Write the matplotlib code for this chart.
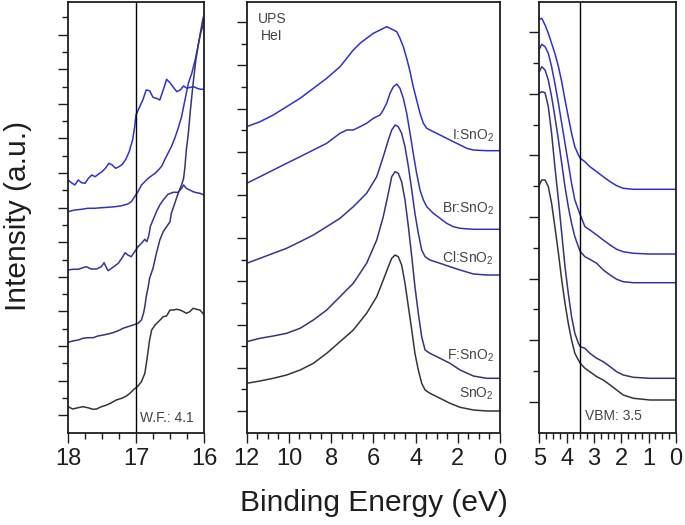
import matplotlib
matplotlib.use("Agg")
import matplotlib.pyplot as plt
import numpy as np

plt.rcParams['font.family'] = ['Liberation Sans', 'DejaVu Sans']
plt.rcParams['mathtext.fontset'] = 'custom'
plt.rcParams['mathtext.rm'] = 'Liberation Sans'
plt.rcParams['mathtext.it'] = 'Liberation Sans:italic'

# ---------------- data ----------------
samples = ["I:SnO$_2$", "Br:SnO$_2$", "Cl:SnO$_2$", "F:SnO$_2$", "SnO$_2$"]
colors = ["#3030d2", "#3434b4", "#34349a", "#343478", "#343440"]

# Secondary electron cutoff (left panel)
wf_I_E = [18.00,17.95,17.90,17.85,17.80,17.75,17.70,17.65,17.60,17.55,17.50,17.45,17.40,17.35,17.30,17.25,17.20,17.15,17.10,17.05,17.02,17.00,16.95,16.90,16.85,16.80,16.75,16.70,16.65,16.60,16.55,16.50,16.45,16.40,16.35,16.30,16.25,16.20,16.15,16.10,16.05,16.00]
wf_I = [252,249.3,247,252,249.3,248.7,253.7,257,255.3,258,260.3,263.7,268.7,267,263.7,265.3,267.7,272.7,280.3,292,305,317,324.7,332,342,341.3,334.7,333.7,332,342,352.7,349.3,344.7,340.3,342,346,343.7,344.7,345.3,343.7,342.7,342.7]
wf_Br_E = [18.00,17.90,17.80,17.71,17.61,17.51,17.41,17.31,17.21,17.12,17.07,17.02,16.97,16.92,16.87,16.82,16.77,16.72,16.67,16.62,16.58,16.53,16.48,16.43,16.38,16.33,16.30,16.26,16.23,16.18,16.13,16.08,16.05,16.02,16.00]
wf_Br = [220.3,222,222.7,223.7,223.7,224.3,224.7,225.3,226.3,228,230.3,235.3,240.3,247,250.3,253.7,256.3,258.7,262,266,272,278.7,285.3,293.7,303.7,315.3,325.3,338.7,348.7,358.7,372,388.7,398.7,405.3,415.3]
wf_Cl_E = [18.00,17.93,17.85,17.78,17.73,17.66,17.58,17.51,17.47,17.43,17.41,17.34,17.26,17.21,17.16,17.12,17.07,17.03,16.97,16.92,16.87,16.84,16.81,16.79,16.75,16.70,16.65,16.60,16.53,16.45,16.38,16.33,16.30,16.26,16.21,16.16,16.11,16.06,16.00]
wf_Cl = [162,162.7,162.7,164.3,165.3,163,163,165.3,169.3,163.7,161.3,164.7,168.7,173.7,179.3,177,175.3,179.3,185.3,188.7,192.7,190.3,197,205.3,212,220.3,227,232,237.7,239.7,239.7,243.7,247,243.7,242,240.3,239.3,238.7,237]
wf_F_E = [18.00,17.93,17.85,17.78,17.71,17.63,17.56,17.48,17.41,17.34,17.26,17.19,17.12,17.04,16.97,16.92,16.89,16.87,16.85,16.82,16.80,16.75,16.70,16.65,16.60,16.55,16.50,16.48,16.43,16.38,16.33,16.30,16.28,16.26,16.23,16.20,16.16,16.12,16.08,16.05,16.02,16.00]
wf_F = [89.7,91,92,93.7,94.3,94.3,96,97,98,99.3,101.3,103.7,105.3,107,108.7,112,118.7,125.3,135.3,145.3,153.7,163.7,178.7,192,200.3,205.3,210.3,218.7,228.7,238.7,247,253.7,265.3,282,298.7,322,348.7,372,388.7,400.3,412,417]
wf_S_E = [18.00,17.93,17.85,17.78,17.71,17.63,17.58,17.51,17.43,17.36,17.29,17.21,17.14,17.09,17.03,16.97,16.92,16.87,16.84,16.80,16.77,16.72,16.67,16.60,16.55,16.50,16.45,16.40,16.35,16.30,16.26,16.21,16.16,16.11,16.06,16.01]
wf_S = [25.3,23,24.3,25.3,24.3,22.7,23,25.3,27,29.3,32,33.7,36,38.7,42.7,46,50.3,58.7,72,92,102,107,110.3,115.3,116,122,122,122.7,122,120.3,118.7,120.3,123.7,122.7,122,118]

# Valence band (middle panel)
vb_I_E = [12.0,11.37,10.74,10.11,9.47,8.84,8.21,7.58,7.26,6.95,6.63,6.32,6.0,5.68,5.37,5.21,5.05,4.89,4.74,4.58,4.42,4.26,4.11,3.95,3.79,3.63,3.47,3.16,2.84,2.53,2.21,1.89,1.58,1.26,0.63,0.0]
vb_I = [305.3,310.3,317,325.3,333.7,343.7,353.7,365.3,373.7,382,388.7,393.7,398.7,402,405.3,403.7,402,400.3,393.7,385.3,373.7,360.3,345.3,332,318.7,308.7,303.7,300.3,297,293.7,290.3,287,283.7,282,281.3,281.3]
vb_Br_E = [12.0,11.37,10.74,10.11,9.47,8.84,8.21,7.58,7.26,6.95,6.63,6.32,6.0,5.68,5.53,5.37,5.21,5.05,4.89,4.74,4.58,4.42,4.26,4.11,3.95,3.79,3.63,3.47,3.16,2.84,2.53,2.21,1.89,1.26,0.0]
vb_Br = [248.7,255.3,262,268.7,275.3,282,288.7,298.7,302,302,305.3,308.7,313.7,317,322,328.7,338.7,345.3,348,343.7,333.7,318.7,298.7,278.7,258.7,242,232,225.3,218.7,213.7,208.7,205.3,203.7,202.7,202.7]
vb_E = [12.0,11.37,10.74,10.11,9.47,8.84,8.21,7.58,6.95,6.32,5.84,5.53,5.29,5.13,4.97,4.82,4.66,4.50,4.34,4.18,4.03,3.87,3.71,3.55,3.32,2.84,2.37,1.89,1.26,0.63,0.0]
vb_Cl = [168.7,173.7,178.7,183.7,190.3,197,205.3,213.7,225.3,238.7,255.3,275.3,292,302,307,305.3,298.7,285.3,265.3,242,218.7,198.7,182,175.3,172,168.7,165.3,162,158,157,157]
vb_F = [90.3,93.7,96,98.7,103.7,112,122,135.3,148.7,168.7,192,215.3,238.7,255.3,260.3,258.7,250.3,232,205.3,175.3,145.3,118.7,95.3,82,78.7,73.7,68.7,62,56,53.7,53.7]
vb_S = [48.7,51,53.7,57,62,68.7,78.7,90.3,102,118.7,135.3,152,165.3,173.7,177,175.3,167,148.7,125.3,102,78.7,62,48.7,42,38.7,33.7,28.7,24.7,22,21,21]

# Valence band maximum region (right panel)
vbm_E = [5.0,4.91,4.79,4.67,4.55,4.43,4.30,4.18,4.06,3.94,3.82,3.70,3.57,3.50,3.33,3.15,2.90,2.66,2.41,2.17,1.93,1.56,0.95,0.0]
vbm_I = [412.7,413.7,407,398.7,388.7,378.7,365.3,350.3,332,315.3,298.7,285.3,277,273.7,270.3,265.3,260.3,255.3,250.3,246.3,243.7,242.7,242.7,242.7]
vbm_Br = [382.7,387.7,385.3,378.7,365.3,348.7,328.7,308.7,288.7,268.7,248.7,232,222,217,205.3,202,197,192,187,182.7,180.3,178.7,178,178]
vbm_Cl = [360.3,365.3,362,352,335.3,315.3,292,268.7,245.3,225.3,208.7,195.3,185.3,180.3,175.3,172.7,168.7,162,157,152.7,150.3,149.3,149.3,149.3]
vbm_F = [338.7,340.3,339.3,325.3,298.7,265.3,232,198.7,165.3,138.7,115.3,98.7,88.7,85.3,83.7,78.7,73.7,70.3,65.3,60.3,57,54.7,53.7,53.7]
vbm_S = [247,252,252,245.3,228.7,205.3,178.7,152,128.7,108.7,92,78.7,72,68.7,63.7,60.3,55.3,52,47,42,37,33.7,32,32]

wf_value = 4.1
vbm_value = 3.5
cutoff_line = 17.0

# ---------------- figure ----------------
W, H = 685, 525
fig = plt.figure(figsize=(W / 100, H / 100), dpi=100)

def box(x0, y0, x1, y1):
    return [x0 / W, 1 - y1 / H, (x1 - x0) / W, (y1 - y0) / H]

axL = fig.add_axes(box(68, 2, 204, 432.5))
axM = fig.add_axes(box(246.7, 2, 500, 432.5))
axR = fig.add_axes(box(539.3, 2, 676, 432.5))

ink = "#1e1e1e"
YL = (-0.5, 430)

def style(ax, xlim, xmaj, xmin, yspace, nticks):
    ax.set_xlim(*xlim)
    ax.set_ylim(*YL)
    lo, hi = min(xlim), max(xlim)
    ax.set_xticks(np.arange(lo, hi + 1e-9, xmaj))
    ax.set_xticks(np.arange(lo, hi + 1e-9, xmin), minor=True)
    ks = np.arange(1, nticks + 1)
    ypos = YL[0] + ks * yspace
    ax.set_yticks(ypos[ks % 2 == 1])
    ax.set_yticks(ypos[ks % 2 == 0], minor=True)
    ax.tick_params(axis='y', which='both', direction='out', labelleft=False,
                   color=ink, width=1.0)
    ax.tick_params(axis='y', which='major', length=7.5)
    ax.tick_params(axis='y', which='minor', length=4.2)
    ax.tick_params(axis='x', which='both', direction='out', color=ink, width=1.0,
                   labelsize=17, labelcolor=ink, pad=4)
    ax.tick_params(axis='x', which='major', length=7.5)
    ax.tick_params(axis='x', which='minor', length=4.2)
    for s in ax.spines.values():
        s.set_linewidth(1.3)
        s.set_color(ink)

style(axL, (18, 16), 1, 0.25, 17.3, 24)
style(axM, (12, 0), 2, 0.5, 21.6, 19)
style(axR, (5, 0), 1, 0.25, 30.8, 13)

axL.set_xticklabels(["18", "17", "16"][::-1])
axL.xaxis.set_major_formatter(matplotlib.ticker.FormatStrFormatter('%d'))
axM.xaxis.set_major_formatter(matplotlib.ticker.FormatStrFormatter('%d'))
axR.xaxis.set_major_formatter(matplotlib.ticker.FormatStrFormatter('%d'))

lw = 1.1
wf_sets = [(wf_I_E, wf_I), (wf_Br_E, wf_Br), (wf_Cl_E, wf_Cl), (wf_F_E, wf_F), (wf_S_E, wf_S)]
vb_sets = [(vb_I_E, vb_I), (vb_Br_E, vb_Br), (vb_E, vb_Cl), (vb_E, vb_F), (vb_E, vb_S)]
vbm_sets = [vbm_I, vbm_Br, vbm_Cl, vbm_F, vbm_S]

for (e, y), c in zip(wf_sets, colors):
    axL.plot(e, y, color=c, lw=lw)
for (e, y), c in zip(vb_sets, colors):
    axM.plot(e, y, color=c, lw=lw)
for y, c in zip(vbm_sets, colors):
    axR.plot(vbm_E, y, color=c, lw=lw)

axL.axvline(cutoff_line, color="black", lw=1.0)
axR.axvline(vbm_value, color="black", lw=1.0)

txt = "#444444"
axL.text(16.94, 10.3, f"W.F.: {wf_value}", fontsize=10, color=txt, ha='left', va='baseline')
axR.text(3.33, 12, f"VBM: {vbm_value}", fontsize=10, color=txt, ha='left', va='baseline')
axM.text(10.8, 409, "UPS", fontsize=10, color=txt, ha='center', va='baseline')
axM.text(10.8, 392, "HeI", fontsize=10, color=txt, ha='center', va='baseline')

label_y = [292, 219, 169, 72, 34]
for name, yb in zip(samples, label_y):
    axM.text(0.28, yb, name, fontsize=10, color=txt, ha='right', va='baseline')

fig.text(18.5 / W, 1 - 216 / H, "Intensity (a.u.)", rotation=90, fontsize=21.5,
         ha='center', va='center', color=ink)
fig.text(374 / W, 1 - 510.7 / H, "Binding Energy (eV)", fontsize=21.5,
         ha='center', va='baseline', color=ink)

fig.savefig("out.png", dpi=100)
